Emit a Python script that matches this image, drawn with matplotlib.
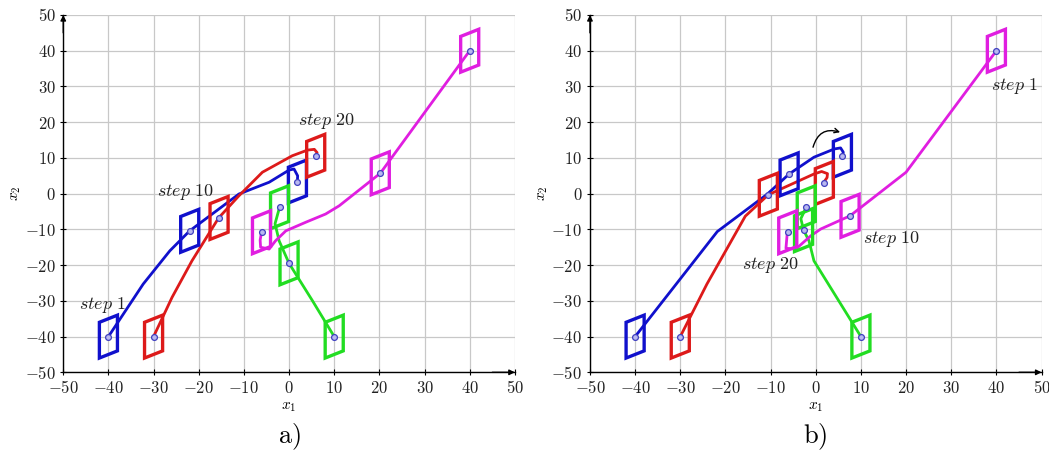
import matplotlib
matplotlib.use("Agg")
import matplotlib.pyplot as plt
from matplotlib.patches import Polygon
from matplotlib.ticker import FuncFormatter, MultipleLocator

plt.rcParams["mathtext.fontset"] = "cm"
plt.rcParams["font.family"] = "DejaVu Serif"

# ---- panel a) trajectories ----
blue_a_x = [-40, -32.3, -26.4, -22, -11.1, -4.4, 0, 1.1, 1.9, 1.85]
blue_a_y = [-40, -25.3, -16, -10.4, -0.1, 3.2, 6.6, 6.9, 5.0, 3.4]
red_a_x = [-30, -25.9, -21.5, -15.6, -11.1, -5.9, 0.7, 4.1, 5.6, 6.2, 5.9]
red_a_y = [-40, -29, -18.8, -6.8, -0.6, 6.0, 10.6, 12.2, 12.4, 11.5, 10.6]
green_a_x = [10, 5.2, 0, -2.2, -3.1, -2.1]
green_a_y = [-40, -30, -19.5, -13.2, -8.4, -3.8]
magenta_a_x = [40, 20.2, 11.1, 8.1, 3.7, -0.7, -3.0, -4.4, -6.3, -6.4, -6.1]
magenta_a_y = [40, 5.7, -3.4, -5.7, -8, -10.4, -13.2, -15.5, -15, -13, -10.8]

# positions at step 1, 10, 20
blue_a_steps = [(-40, -40), (-22, -10.4), (1.85, 3.4)]
red_a_steps = [(-30, -40), (-15.5, -6.8), (5.9, 10.6)]
green_a_steps = [(10, -40), (0, -19.5), (-2.1, -3.8)]
magenta_a_steps = [(40, 40), (20.2, 5.7), (-6.1, -10.8)]

labels_a = ["step 1", "step 10", "step 20"]
label_pos_a = [(-41.3, -31.1), (-23, 0.4), (8.2, 20.3)]

# ---- panel b) trajectories ----
blue_b_x = [-40, -21.8, -10.7, -5.9, -0.4, 4.1, 5.5, 6.1, 5.9]
blue_b_y = [-40, -10.6, -0.1, 5.5, 10.2, 12.5, 12.8, 11.6, 10.6]
red_b_x = [-30, -24.1, -15.6, -10.5, -0.4, 1.3, 2.6, 2.5, 1.9]
red_b_y = [-40, -25.3, -6.3, -0.3, 5.5, 6.2, 5.6, 4.5, 3.4]
green_b_x = [10, -0.4, -1.5, -2.7, -3.3, -2.1]
green_b_y = [-40, -18.8, -13.2, -10.2, -7, -3.8]
magenta_b_x = [40, 20, 7.6, 1.1, -1.1, -4.4, -6.6, -6.3]
magenta_b_y = [40, 6, -6.2, -9.9, -11.8, -15.5, -15.3, -10.8]

blue_b_steps = [(-40, -40), (-5.9, 5.4), (5.9, 10.6)]
red_b_steps = [(-30, -40), (-10.5, -0.3), (1.9, 3.0)]
green_b_steps = [(10, -40), (-2.7, -10.2), (-2.1, -3.8)]
magenta_b_steps = [(40, 40), (7.6, -6.2), (-6.2, -10.8)]

labels_b = ["step 1", "step 10", "step 20"]
label_pos_b = [(44, 30), (16.8, -12.6), (-10, -19.9)]

BLUE = "#1010cc"
RED = "#dd1a1a"
GREEN = "#22dd22"
MAGENTA = "#e01ee0"

# parallelogram footprint around each step position
BOX_DX = [-2, 2, 2, -2]
BOX_DY = [-6, -4, 6, 4]


def draw_robot(ax, xs, ys, steps, color):
    ax.plot(xs, ys, color=color, lw=2.0, solid_joinstyle="round", zorder=3)
    for cx, cy in steps:
        verts = [(cx + dx, cy + dy) for dx, dy in zip(BOX_DX, BOX_DY)]
        ax.add_patch(Polygon(verts, closed=True, fill=False, edgecolor=color,
                             lw=2.4, joinstyle="miter", zorder=4))
        ax.plot(cx, cy, "o", ms=4.2, mec="#4040c0", mfc="#b8b8f0", mew=0.9, zorder=5)


def style_axes(ax):
    ax.set_xlim(-50, 50)
    ax.set_ylim(-50, 50)
    ax.xaxis.set_major_locator(MultipleLocator(10))
    ax.yaxis.set_major_locator(MultipleLocator(10))
    fmt = FuncFormatter(lambda v, p: f"${v:g}$")
    ax.xaxis.set_major_formatter(fmt)
    ax.yaxis.set_major_formatter(fmt)
    ax.grid(True, color="#c8c8c8", lw=0.9)
    ax.set_axisbelow(True)
    for s in ["top", "right"]:
        ax.spines[s].set_visible(False)
    for s in ["left", "bottom"]:
        ax.spines[s].set_linewidth(1.0)
    ax.tick_params(direction="inout", length=5, width=0.8, labelsize=12,
                   labelcolor="#222222", pad=3)
    ax.set_xlabel("$x_1$", fontsize=11, labelpad=2)
    ax.set_ylabel("$x_2$", fontsize=11, labelpad=1)
    ax.annotate("", xy=(1.0, 0), xytext=(0.95, 0), xycoords="axes fraction",
                arrowprops=dict(arrowstyle="-|>", color="k", lw=1.0, mutation_scale=8,
                                shrinkA=0, shrinkB=0))
    ax.annotate("", xy=(0, 1.0), xytext=(0, 0.95), xycoords="axes fraction",
                arrowprops=dict(arrowstyle="-|>", color="k", lw=1.0, mutation_scale=8,
                                shrinkA=0, shrinkB=0))


fig = plt.figure(figsize=(10.49, 4.53), dpi=100)
ax_a = fig.add_axes([0.0603, 0.1781, 0.4305, 0.7888])
ax_b = fig.add_axes([0.5624, 0.1781, 0.4305, 0.7888])

draw_robot(ax_a, blue_a_x, blue_a_y, blue_a_steps, BLUE)
draw_robot(ax_a, red_a_x, red_a_y, red_a_steps, RED)
draw_robot(ax_a, green_a_x, green_a_y, green_a_steps, GREEN)
draw_robot(ax_a, magenta_a_x, magenta_a_y, magenta_a_steps, MAGENTA)

draw_robot(ax_b, blue_b_x, blue_b_y, blue_b_steps, BLUE)
draw_robot(ax_b, red_b_x, red_b_y, red_b_steps, RED)
draw_robot(ax_b, green_b_x, green_b_y, green_b_steps, GREEN)
draw_robot(ax_b, magenta_b_x, magenta_b_y, magenta_b_steps, MAGENTA)

for ax, labels, positions in [(ax_a, labels_a, label_pos_a), (ax_b, labels_b, label_pos_b)]:
    style_axes(ax)
    for lab, (lx, ly) in zip(labels, positions):
        word, num = lab.split()
        ax.text(lx, ly, rf"$\mathit{{{word}}}\ {num}$", fontsize=13, color="#222222",
                ha="center", va="center", zorder=6)

# curved arrow showing the swap in panel b)
ax_b.annotate("", xy=(5.4, 17.2), xytext=(-0.6, 13),
              arrowprops=dict(arrowstyle="->", color="k", lw=1.0, mutation_scale=8,
                              connectionstyle="arc3,rad=-0.5", shrinkA=0, shrinkB=0))

fig.text(0.2763, 0.035, r"$\mathrm{a)}$", fontsize=19, ha="center", va="center")
fig.text(0.7769, 0.035, r"$\mathrm{b)}$", fontsize=19, ha="center", va="center")

fig.savefig("out.png", dpi=100)
